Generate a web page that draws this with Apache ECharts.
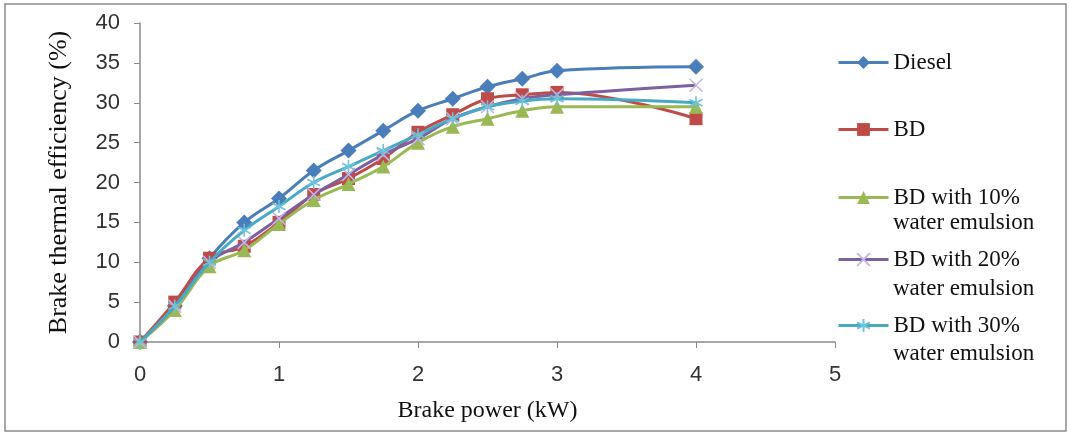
<!DOCTYPE html>
<html>
<head>
<meta charset="utf-8">
<script src="https://cdn.jsdelivr.net/npm/echarts@6/dist/echarts.min.js"></script>
<style>
html,body{margin:0;padding:0;background:#fff;}
#c{width:1070px;height:434px;}
</style>
</head>
<body>
<div id="c"></div>
<script>
const brakePower = [0, 0.25, 0.5, 0.75, 1, 1.25, 1.5, 1.75, 2, 2.25, 2.5, 2.75, 3, 4];
const diesel = [0, 4.5, 10.5, 15, 18, 21.5, 24, 26.5, 29, 30.5, 32, 33, 34, 34.5];
const bd = [0, 5, 10.5, 12, 15, 18.5, 20.5, 23, 26.3, 28.5, 30.5, 31, 31.3, 28];
const bd10 = [0, 4, 9.5, 11.5, 14.8, 17.8, 19.8, 22, 25, 27, 28, 29, 29.5, 29.5];
const bd20 = [0, 4.5, 10, 12.5, 15.5, 18.5, 21, 23.5, 25.5, 28, 29.5, 30.5, 31, 32.2];
const bd30 = [0, 4.5, 10, 14, 17, 20, 22, 24, 26, 28, 29.5, 30.2, 30.5, 30];
const seriesNames = ['Diesel', 'BD', 'BD with 10% water emulsion', 'BD with 20% water emulsion', 'BD with 30% water emulsion'];
const legendLine1 = ['Diesel', 'BD', 'BD with 10%', 'BD with 20%', 'BD with 30%'];
const legendLine2 = ['', '', 'water emulsion', 'water emulsion', 'water emulsion'];
const yTicks = [0, 5, 10, 15, 20, 25, 30, 35, 40];
const xTicks = [0, 1, 2, 3, 4, 5];

const colors = ['#4A7EBB', '#BE4B48', '#98B954', '#7D60A0', '#46AAC5'];
const markerColors = ['#4A7EBB', '#BE4B48', '#98B954', '#C9B3E0', '#6FC3DA'];
const symbols = ['diamond', 'rect', 'triangle',
  'path://M0,0L10,10M10,0L0,10',
  'path://M5,0L5,10M0,2.5L10,7.5M0,7.5L10,2.5'];
const symbolSizes = [16, 13, 14, 13, 13];
const allData = [diesel, bd, bd10, bd20, bd30];

const chart = echarts.init(document.getElementById('c'));

const series = allData.map((vals, i) => {
  const s = {
    name: seriesNames[i],
    type: 'line',
    data: brakePower.map((x, j) => [x, vals[j]]),
    smooth: 0.4,
    symbol: symbols[i],
    symbolSize: symbolSizes[i],
    showAllSymbol: true,
    lineStyle: { color: colors[i], width: 3 },
    itemStyle: { color: markerColors[i] },
    emphasis: { disabled: true },
    z: 2 + i
  };
  if (i >= 3) {
    s.itemStyle = { color: 'none', borderColor: markerColors[i], borderWidth: 1.6 };
  }
  return s;
});

const legendCenters = [61, 128, 196, 258, 324];
const legendSecond = [0, 0, 223, 289, 354];
const legends = seriesNames.map((n, i) => ({
  data: [n],
  left: 832,
  top: legendCenters[i] - 15,
  itemWidth: 50,
  itemHeight: 16,
  orient: 'vertical',
  selectedMode: false,
  formatter: () => legendLine1[i],
  lineStyle: { width: 3 },
  textStyle: { fontFamily: 'Liberation Serif', fontSize: 23, color: '#111' }
}));

const graphics = [{
  type: 'rect',
  shape: { x: 5, y: 4, width: 1061, height: 427 },
  style: { fill: 'none', stroke: '#8a8a8a', lineWidth: 1.5 },
  silent: true
}];
legendLine2.forEach((t, i) => {
  if (!t) return;
  graphics.push({
    type: 'text',
    x: 893,
    y: legendSecond[i],
    style: { text: t, fontFamily: 'Liberation Serif', fontSize: 23, fill: '#111', verticalAlign: 'middle', align: 'left' },
    silent: true
  });
});

chart.setOption({
  animation: false,
  backgroundColor: '#fff',
  grid: { left: 140, right: 235, top: 23, bottom: 92 },
  xAxis: {
    type: 'value',
    min: xTicks[0], max: xTicks[xTicks.length - 1], interval: 1,
    name: 'Brake power (kW)',
    nameLocation: 'middle',
    nameGap: 57,
    nameTextStyle: { fontFamily: 'Liberation Serif', fontSize: 24, color: '#111' },
    axisLine: { lineStyle: { color: '#8a8a8a', width: 1.5 } },
    axisTick: { show: true, inside: false, length: 6, lineStyle: { color: '#8a8a8a' } },
    axisLabel: { margin: 22, fontFamily: 'Liberation Sans', fontSize: 22, color: '#333' },
    splitLine: { show: false }
  },
  yAxis: {
    type: 'value',
    min: yTicks[0], max: yTicks[yTicks.length - 1], interval: 5,
    name: 'Brake thermal efficiency (%)',
    nameLocation: 'middle',
    nameGap: 68,
    nameTextStyle: { fontFamily: 'Liberation Serif', fontSize: 26, color: '#111' },
    axisLine: { show: true, lineStyle: { color: '#8a8a8a', width: 1.5 } },
    axisTick: { show: true, inside: false, length: 6, lineStyle: { color: '#8a8a8a' } },
    axisLabel: { margin: 20, fontFamily: 'Liberation Sans', fontSize: 22, color: '#333' },
    splitLine: { show: false }
  },
  legend: legends,
  graphic: graphics,
  series: series
});
</script>
</body>
</html>
